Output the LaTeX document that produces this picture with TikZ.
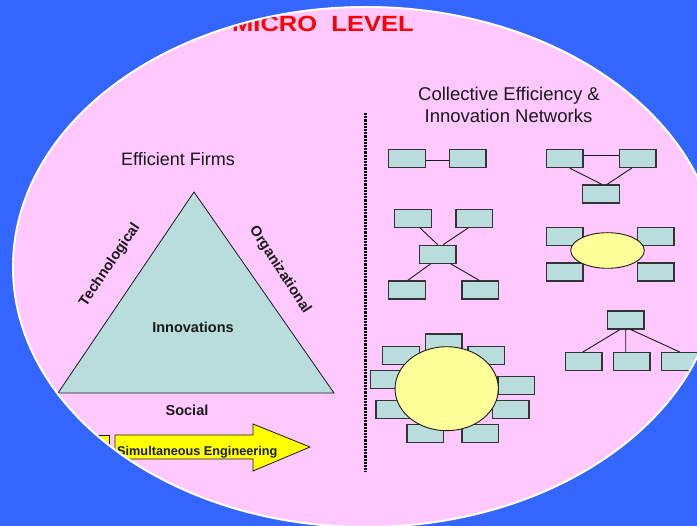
\documentclass[tikz,border=0pt]{standalone}
\usepackage{fontspec}
\setmainfont{Liberation Sans}
\usetikzlibrary{calc,shapes.geometric}
\definecolor{bg}{HTML}{3366FF}
\definecolor{pinkf}{HTML}{FFC8FF}
\definecolor{tealf}{HTML}{B9DDDD}
\definecolor{yell}{HTML}{FFFF99}
\definecolor{arrowy}{HTML}{FFFF00}
\definecolor{ink}{HTML}{1A1A1A}
\definecolor{boxline}{HTML}{333333}
\begin{document}
\begin{tikzpicture}[x=1pt,y=-1pt,
  netbox/.style={rectangle,draw=boxline,line width=1.2pt,fill=tealf,minimum width=36.5pt,minimum height=18pt,inner sep=0pt},
  link/.style={draw=ink,line width=0.9pt},
  blob/.style={ellipse,draw=ink,line width=0.9pt,fill=yell,inner sep=0pt},
  lbl/.style={text=ink,inner sep=0pt},
  boldlbl/.style={text=ink,inner sep=0pt,font=\fontsize{14.5}{17}\selectfont\bfseries}
]
\fill[bg] (0,0) rectangle (697,526);
\path[use as bounding box] (0,0) rectangle (697,526);
\fill[pinkf] (366,267) ellipse [x radius=353, y radius=260];
\begin{scope}
\clip (366,267) ellipse [x radius=353, y radius=260];
% title
\node[text=red,inner sep=0pt,anchor=base west,font=\fontsize{22}{26}\selectfont\bfseries] (title) at (232,31.7) {\scalebox{1.16}[1]{MICRO\ \ LEVEL}};
% left part
\node[lbl,anchor=base,font=\fontsize{18}{22}\selectfont] (ef) at (178,166) {Efficient Firms};
\filldraw[fill=tealf,draw=ink,line width=0.8pt] (194,192) -- (58,393) -- (334,393) -- cycle;
\node[boldlbl] (inno) at (193,327) {Innovations};
\node[boldlbl] (soc) at (187,410) {Social};
\node[boldlbl,rotate=56] (tech) at (110,265) {Technological};
\node[boldlbl,rotate=-57] (org) at (280,270) {Organizational};
% arrow
\filldraw[fill=arrowy,draw=ink,line width=0.8pt] (70,435) rectangle (109,459);
\filldraw[fill=arrowy,draw=ink,line width=0.8pt] (115,435) -- (253,435) -- (253,424) -- (310,447) -- (253,471) -- (253,459) -- (115,459) -- cycle;
\node[lbl,anchor=west,font=\fontsize{12.7}{15}\selectfont\bfseries] (sim) at (117,452) {Simultaneous Engineering};
% divider
\draw[black,line width=3pt,dash pattern=on 2.2pt off 1pt] (365,113) -- (365,472);
% right heading
\node[lbl,anchor=base,font=\fontsize{18.5}{22}\selectfont] (ce1) at (509,101) {Collective Efficiency \&};
\node[lbl,anchor=base,font=\fontsize{18.5}{22}\selectfont] (ce2) at (508.5,123) {Innovation Networks};
% group 1
\node[netbox] (A) at (407,158.5) {};
\node[netbox] (B) at (467.7,158.5) {};
\draw[link] ([yshift=-2]A.east) -- ([yshift=-2]B.west);
% group 2
\node[netbox] (C) at (564.7,158.5) {};
\node[netbox] (D) at (637.7,158.5) {};
\node[netbox] (E) at (601,194) {};
\draw[link] ([yshift=3.5]C.east) -- ([yshift=3.5]D.west);
\draw[link] ([xshift=5]C.south) -- ([xshift=1]E.north);
\draw[link] ([xshift=-6]D.south) -- ([xshift=6]E.north);
% group 3
\node[netbox] (F) at (413,218.3) {};
\node[netbox] (G) at (474.2,218.3) {};
\node[netbox] (H) at (437.7,254.2) {};
\node[netbox] (I) at (407,290) {};
\node[netbox] (J) at (480.3,290) {};
\draw[link] ([xshift=7]F.south) -- (H.north);
\draw[link] ([xshift=-6]G.south) -- ([xshift=5.6]H.north);
\draw[link] ([xshift=-7]H.south) -- ([xshift=0.7]I.north);
\draw[link] ([xshift=13]H.south) -- ([xshift=-1]J.north);
% group 4
\node[netbox] (K) at (564.8,236.2) {};
\node[netbox] (L) at (655.8,236.2) {};
\node[netbox] (M) at (564.8,272) {};
\node[netbox] (N) at (655.8,272) {};
\node[blob,minimum width=73.6pt,minimum height=35.6pt] (O1) at (607.5,250.5) {};
% group 5
\node[netbox] (P) at (625.8,320) {};
\node[netbox] (Q) at (583.7,361.7) {};
\node[netbox] (R) at (631.7,361.7) {};
\node[netbox] (S) at (680,361.7) {};
\draw[link] ([xshift=-5.8]P.south) -- ([xshift=-1]Q.north);
\draw[link] (P.south) -- ([xshift=-6]R.north);
\draw[link] ([xshift=5]P.south) -- (S.north);
% group 6
\node[netbox] (b1) at (443.7,343) {};
\node[netbox] (b2) at (401,355.5) {};
\node[netbox] (b3) at (486.3,355.5) {};
\node[netbox] (b4) at (388.8,379.2) {};
\node[netbox] (b5) at (516.3,385.2) {};
\node[netbox] (b6) at (394.3,409.5) {};
\node[netbox] (b7) at (510.7,409.5) {};
\node[netbox] (b8) at (425.3,433.5) {};
\node[netbox] (b9) at (480.3,433.5) {};
\node[blob,minimum width=103.3pt,minimum height=84pt] (O2) at (446.7,388.7) {};
\end{scope}
\draw[white,line width=2pt] (366,267) ellipse [x radius=353, y radius=260];
\end{tikzpicture}
\end{document}
